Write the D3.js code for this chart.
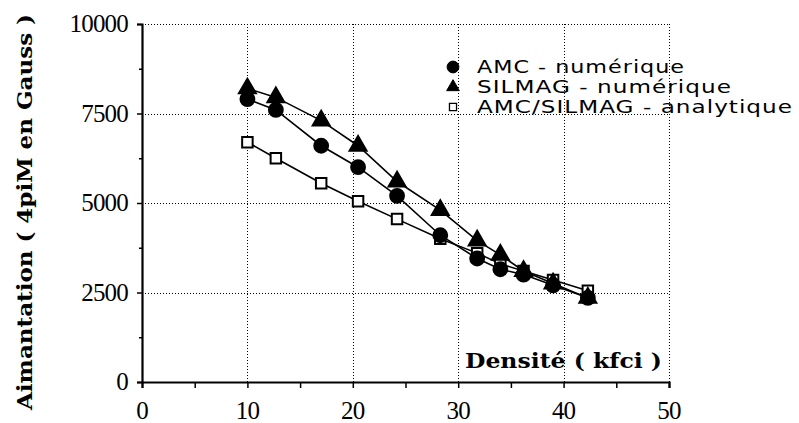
<!DOCTYPE html>
<html>
<head>
    <meta charset="UTF-8">
    <style>
        body { margin: 0; background: #fff; }
        .grid line { stroke: #000; stroke-width: 1; stroke-dasharray: 1,2; shape-rendering: crispEdges; }
        .tick-label { font-family: "Liberation Serif", serif; font-size: 25px; fill: #000; }
        .legend text { font-family: "DejaVu Sans", sans-serif; font-size: 18px; fill: #000; }
        .axis-title { font-family: "DejaVu Serif", serif; font-weight: bold; font-size: 20px; fill: #000; }
        .series { fill: none; stroke: #000; stroke-width: 1.6; }
    </style>
</head>
<body>
<script src="https://cdn.jsdelivr.net/npm/d3@7"></script>
<script>
// densities (kfci)
var densite = [10, 12.7, 17, 20.5, 24.2, 28.3, 31.8, 34, 36.2, 39, 42.3];
// magnetisation, 4piM in Gauss
var amcNum    = [7900, 7600, 6600, 6000, 5200, 4100, 3450, 3150, 3000, 2700, 2350];
var silmagNum = [8200, 7950, 7300, 6600, 5600, 4800, 3950, 3550, 3100, 2750, 2350];
var analytique = [6700, 6250, 5550, 5050, 4550, 4000, 3600, 3300, 3100, 2850, 2550];

var xTicks = [0, 10, 20, 30, 40, 50];
var yTicks = [0, 2500, 5000, 7500, 10000];
var legendLabels = ["AMC - numérique", "SILMAG - numérique", "AMC/SILMAG - analytique"];
var legendWidths = [208, 255, 316];

var width = 799, height = 423;
var svg = d3.select("body").append("svg").attr("width", width).attr("height", height);

var x = d3.scaleLinear().domain([0, 50]).range([142, 669]);
var y = d3.scaleLinear().domain([0, 10000]).range([382, 24]);

// dotted grid + top/right frame
var grid = svg.append("g").attr("class", "grid");
grid.selectAll(".gx").data(xTicks.slice(1)).enter().append("line")
    .attr("x1", function(d) { return Math.round(x(d)) + 0.5; }).attr("x2", function(d) { return Math.round(x(d)) + 0.5; })
    .attr("y1", y(0)).attr("y2", y(10000));
grid.selectAll(".gy").data(yTicks.slice(1)).enter().append("line")
    .attr("x1", x(0)).attr("x2", x(50))
    .attr("y1", function(d) { return Math.round(y(d)) + 0.5; }).attr("y2", function(d) { return Math.round(y(d)) + 0.5; });

// axes
var xAxis = svg.append("g").attr("transform", "translate(0," + y(0) + ")")
    .call(d3.axisBottom(x).tickValues(d3.range(0, 51, 5)).tickSize(6).tickFormat(""));
var yAxis = svg.append("g").attr("transform", "translate(" + x(0) + ",0)")
    .call(d3.axisLeft(y).tickValues(d3.range(0, 10001, 1250)).tickSize(5).tickFormat(""));
[xAxis, yAxis].forEach(function(a) {
    a.select(".domain").attr("stroke-width", 2.2);
    a.selectAll(".tick line").attr("stroke-width", 1.5);
});
yAxis.selectAll(".tick line").filter(function(d) { return d % 2500 !== 0; }).attr("x2", -3);

svg.selectAll(".ylab").data(yTicks).enter().append("text")
    .attr("class", "tick-label")
    .attr("x", 128).attr("y", function(d) { return y(d) + 8; })
    .attr("text-anchor", "end")
    .attr("letter-spacing", -0.8)
    .text(function(d) { return d; });
svg.selectAll(".xlab").data(xTicks).enter().append("text")
    .attr("class", "tick-label")
    .attr("x", function(d) { return x(d); }).attr("y", 419)
    .attr("text-anchor", "middle")
    .attr("letter-spacing", -0.8)
    .text(function(d) { return d; });

// titles
svg.append("text").attr("class", "axis-title")
    .attr("x", 465).attr("y", 368)
    .attr("textLength", 197).attr("lengthAdjust", "spacingAndGlyphs")
    .text("Densité ( kfci )");
svg.append("text").attr("class", "axis-title")
    .attr("transform", "translate(32,410) rotate(-90)")
    .attr("font-size", 21)
    .attr("textLength", 396).attr("lengthAdjust", "spacingAndGlyphs")
    .text("Aimantation ( 4piM en Gauss )");

// series
var line = d3.line().x(function(d) { return x(d[0]); }).y(function(d) { return y(d[1]); });
function pts(vals) { return densite.map(function(d, i) { return [d, vals[i]]; }); }

var seriesList = [
    {vals: analytique, sym: d3.symbolSquare, size: 110, fill: "#fff"},
    {vals: amcNum, sym: d3.symbolCircle, size: 150, fill: "#000"},
    {vals: silmagNum, sym: d3.symbolTriangle, size: 125, fill: "#000"}
];
seriesList.forEach(function(s) {
    svg.append("path").attr("class", "series").attr("d", line(pts(s.vals)));
});
seriesList.forEach(function(s) {
    svg.append("g").selectAll("path").data(pts(s.vals)).enter().append("path")
        .attr("transform", function(d) { return "translate(" + x(d[0]) + "," + y(d[1]) + ")"; })
        .attr("d", d3.symbol().type(s.sym).size(s.size))
        .attr("fill", s.fill).attr("stroke", "#000").attr("stroke-width", 2);
});

// legend
var legendSyms = [
    {sym: d3.symbolCircle, size: 110, fill: "#000", sw: 1},
    {sym: d3.symbolTriangle, size: 70, fill: "#000", sw: 1},
    {sym: d3.symbolSquare, size: 50, fill: "#fff", sw: 1.3}
];
var legend = svg.append("g").attr("class", "legend");
legendLabels.forEach(function(lab, i) {
    var ly = 67 + i * 20;
    legend.append("path")
        .attr("transform", "translate(453," + ly + ")")
        .attr("d", d3.symbol().type(legendSyms[i].sym).size(legendSyms[i].size))
        .attr("fill", legendSyms[i].fill).attr("stroke", "#000").attr("stroke-width", legendSyms[i].sw);
    legend.append("text").attr("x", 477).attr("y", ly + 6)
        .attr("letter-spacing", 0.8)
        .attr("textLength", legendWidths[i]).attr("lengthAdjust", "spacingAndGlyphs")
        .text(lab);
});
</script>
</body>
</html>
